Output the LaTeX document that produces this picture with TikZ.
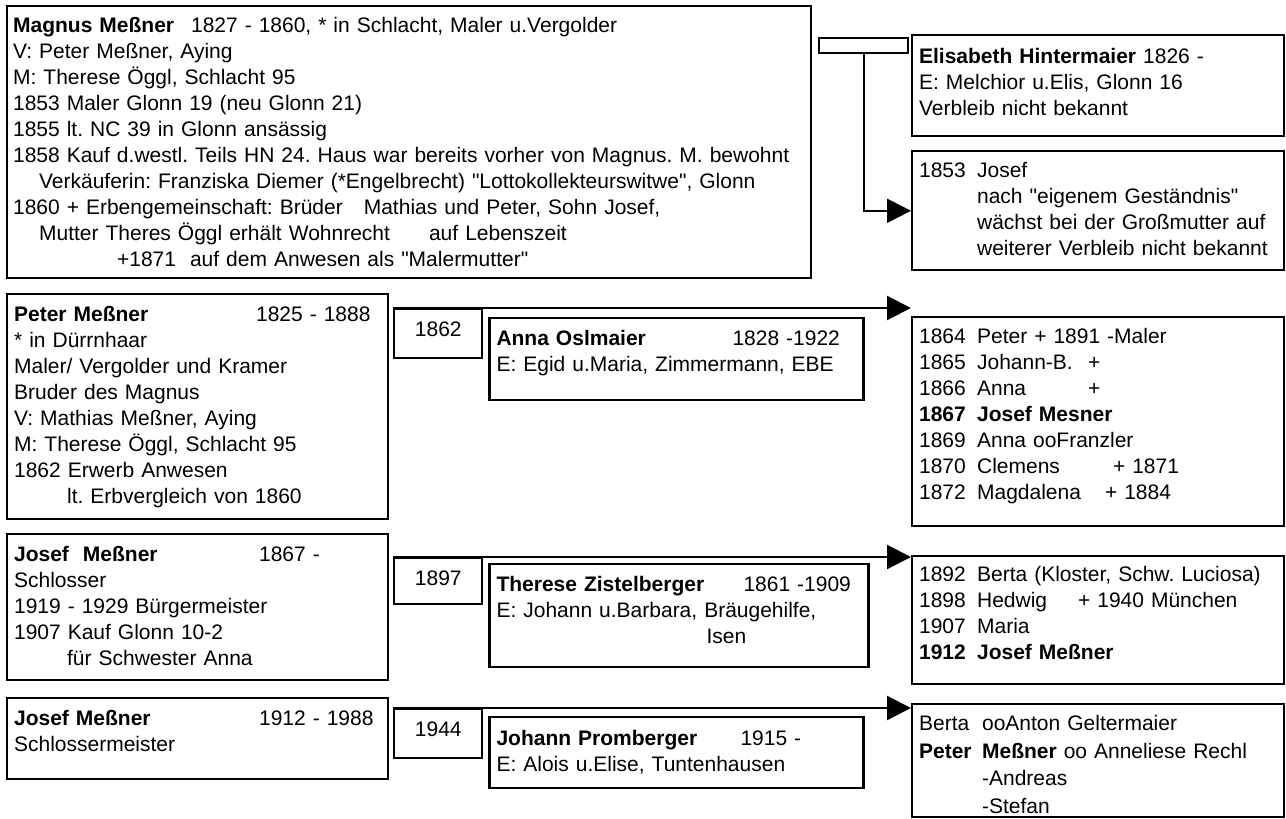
\documentclass[tikz,border=0pt]{standalone}
\usepackage{fontspec}
\setmainfont{Liberation Sans}
\usetikzlibrary{arrows.meta}
\usetikzlibrary{positioning}
\frenchspacing
\tikzstyle{card} = [rectangle, draw=black, line width=2.2pt, anchor=north west, align=left, inner xsep=7pt, inner ysep=0pt, text height=27.5pt, font=\fontsize{21}{26}\selectfont]
\tikzstyle{yearbox} = [rectangle, draw=black, line width=2.2pt, anchor=north west, minimum width=88pt, inner xsep=0pt, inner ysep=0pt, text height=27.5pt, text depth=21.5pt, font=\fontsize{21}{26}\selectfont]
\tikzstyle{arrow} = [line width=2.2pt, -{Triangle[length=24pt, width=24pt]}]
\newcommand{\yr}[1]{\makebox[58pt][l]{#1}}
\newcommand{\qq}{\textquotedbl}

\begin{document}
\begin{tikzpicture}[x=1pt, y=-1pt]
\useasboundingbox (0,0) rectangle (1286,819);

% Magnus and his son Josef
\node (magnus) [card, inner xsep=6pt, text width=792pt, text height=26.5pt, text depth=245.5pt] at (6,5) {\makebox[178pt][l]{\textbf{Magnus Meßner}}1827 - 1860, * in Schlacht, Maler u.Vergolder\\
V: Peter Meßner, Aying\\
M: Therese Öggl, Schlacht 95\\
1853 Maler Glonn 19 (neu Glonn 21)\\
1855 lt. NC 39 in Glonn ansässig\\
1858 Kauf d.westl. Teils HN 24. Haus war bereits vorher von Magnus. M. bewohnt\\
\hspace*{26pt}Verkäuferin: Franziska Diemer (*Engelbrecht) \qq Lottokollekteurswitwe\qq, Glonn\\
1860 + Erbengemeinschaft: Brüder\ \ \ Mathias und Peter, Sohn Josef,\\
\hspace*{26pt}\makebox[390pt][l]{Mutter Theres Öggl erhält Wohnrecht}auf Lebenszeit\\
\hspace*{104pt}+1871\ \ auf dem Anwesen als \qq Malermutter\qq};
\node (bar) [rectangle, draw=black, line width=2.2pt, anchor=north west, minimum width=89pt, minimum height=15pt, inner sep=0pt] at (818,37) {};
\node (elis) [card, text width=358pt, text height=28pt, text depth=73pt] at (911,34) {\textbf{Elisabeth Hintermaier} 1826 -\\
E: Melchior u.Elis, Glonn 16\\
Verbleib nicht bekannt};
\node (son53) [card, text width=358pt, text height=26.5pt, text depth=92.5pt, below=13pt of elis] {\yr{1853}Josef\\
\hspace*{58pt}nach \qq eigenem Geständnis\qq\\
\hspace*{58pt}wächst bei der Großmutter auf\\
\hspace*{58pt}weiterer Verbleib nicht bekannt};

% Peter and Anna
\node (peter) [card, text width=367pt, text depth=197.5pt] at (6,293) {\makebox[242pt][l]{\textbf{Peter Meßner}}1825 - 1888\\
{*} in Dürrnhaar\\
Maler/ Vergolder und Kramer\\
Bruder des Magnus\\
V: Mathias Meßner, Aying\\
M: Therese Öggl, Schlacht 95\\
1862 Erwerb Anwesen\\
\hspace*{53pt}lt. Erbvergleich von 1860};
\node (y1862) [yearbox, below right=15pt and 4pt of peter.north east] {1862};
\node (anna) [card, text width=360pt, text depth=54.5pt, below right=9pt and 5pt of y1862.north east] {\makebox[236pt][l]{\textbf{Anna Oslmaier}}1828 -1922\\
E: Egid u.Maria, Zimmermann, EBE};
\node (kids1) [card, text width=358pt, text height=26.5pt, text depth=182.5pt] at (911,316) {\yr{1864}Peter + 1891 -Maler\\
\yr{1865}\makebox[111pt][l]{Johann-B.}+\\
\yr{1866}\makebox[111pt][l]{Anna}+\\
\textbf{\yr{1867}Josef Mesner}\\
\yr{1869}Anna ooFranzler\\
\yr{1870}\makebox[136pt][l]{Clemens}+ 1871\\
\yr{1872}\makebox[128pt][l]{Magdalena}+ 1884};

% Josef and Therese
\node (josef) [card, text width=367pt, text depth=118.5pt] at (6,533) {\makebox[245pt][l]{\textbf{Josef\ \ Meßner}}1867 -\\
Schlosser\\
1919 - 1929 Bürgermeister\\
1907 Kauf Glonn 10-2\\
\hspace*{53pt}für Schwester Anna};
\node (y1897) [yearbox, text depth=18.5pt, below right=24pt and 4pt of josef.north east] {1897};
\node (therese) [card, text width=365pt, text depth=75.5pt, below right=6pt and 5pt of y1897.north east] {\makebox[247pt][l]{\textbf{Therese Zistelberger}}1861 -1909\\
E: Johann u.Barbara, Bräugehilfe,\\
\hspace*{210pt}Isen};
\node (kids2) [card, text width=358pt, text height=25pt, text depth=103pt] at (911,555) {\yr{1892}Berta (Kloster, Schw. Luciosa)\\
\yr{1898}\makebox[101pt][l]{Hedwig}+ 1940 München\\
\yr{1907}Maria\\
\textbf{\yr{1912}Josef Meßner}};

% Josef and Johann
\node (josef2) [card, text width=367pt, text depth=53.5pt] at (6,697) {\makebox[245pt][l]{\textbf{Josef Meßner}}1912 - 1988\\
Schlossermeister};
\node (y1944) [yearbox, below right=11pt and 4pt of josef2.north east] {1944};
\node (johann) [card, text width=360pt, text height=28.5pt, text depth=42.5pt, below right=8pt and 5pt of y1944.north east] {\makebox[244pt][l]{\textbf{Johann Promberger}}1915 -\\
E: Alois u.Elise, Tuntenhausen};
\node (kids3) [card, text width=358pt, text height=26.5pt, text depth=86.5pt, font=\fontsize{21}{27.5}\selectfont] at (911,703) {\makebox[63pt][l]{Berta}ooAnton Geltermaier\\
\makebox[63pt][l]{\textbf{Peter}}\textbf{Meßner} oo Anneliese Rechl\\
\hspace*{63pt}-Andreas\\
\hspace*{63pt}-Stefan};

\draw [arrow] (bar.south) |- (son53.west);
\draw [arrow] (y1862.north west) -- (y1862.north west -| kids1.west);
\draw [arrow] (y1897.north west) -- (y1897.north west -| kids2.west);
\draw [arrow] (y1944.north west) -- (y1944.north west -| kids3.west);

\end{tikzpicture}
\end{document}
